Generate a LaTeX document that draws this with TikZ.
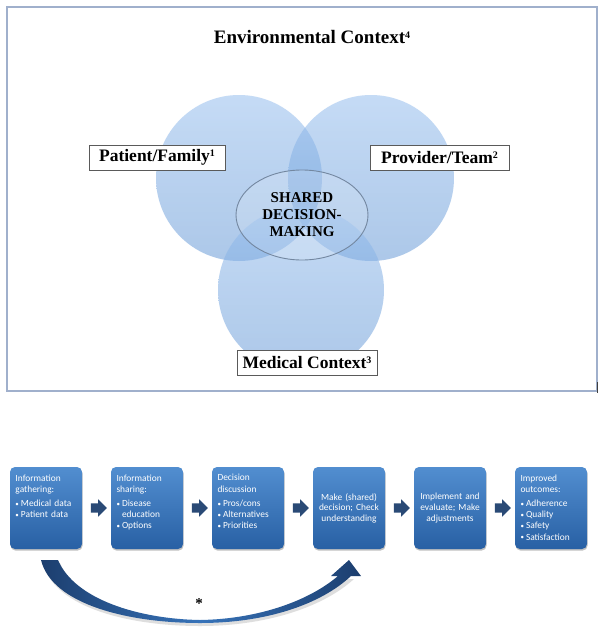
\documentclass[tikz,border=0pt]{standalone}
\usepackage{fontspec}
\setmainfont{Liberation Serif}
\newfontfamily\boxfont{Carlito}
\usetikzlibrary{shadows,shapes.geometric,shapes.arrows,calc}
\definecolor{framec}{RGB}{160,176,204}
\definecolor{circtop}{RGB}{150,190,238}
\definecolor{circbot}{RGB}{105,155,215}
\definecolor{ellc}{RGB}{115,135,160}
\definecolor{labc}{RGB}{90,90,90}
\definecolor{boxtop}{RGB}{82,142,208}
\definecolor{boxbot}{RGB}{40,96,164}
\definecolor{arrowc}{RGB}{42,74,118}
\definecolor{curvec}{RGB}{28,62,110}
\definecolor{curvemid}{RGB}{55,115,185}
\newcommand\bul{\makebox[5.5pt][l]{\raisebox{0.3pt}{\fontsize{7}{7}\selectfont\textbullet}}}
\newcommand\supnum[1]{\raisebox{0.62ex}{\fontsize{10}{10}\selectfont #1}}
\tikzset{
  circ/.style={circle, minimum size=166pt, inner sep=0pt, top color=circtop, bottom color=circbot, fill opacity=0.55, draw=none},
  lab/.style={draw=labc, fill=white, line width=1pt, minimum height=25pt, inner xsep=4pt, font=\bfseries\fontsize{17.5}{19}\selectfont},
  fbox/.style={rounded corners=5pt, top color=boxtop, bottom color=boxbot, minimum width=72pt, minimum height=82pt, inner sep=0pt,
    drop shadow={shadow xshift=0.6pt, shadow yshift=-1.6pt, opacity=0.35, fill=black!70}},
  txt/.style={anchor=north west, inner sep=0pt, text width=66pt, align=left, text=white, font=\boxfont\fontsize{9.4}{11.2}\selectfont},
  ctxt/.style={inner sep=0pt, text width=70pt, align=center, text=white, font=\boxfont\fontsize{9.4}{10.6}\selectfont},
  blk/.style={single arrow, fill=arrowc, draw=none, minimum height=16pt, inner sep=4.5pt, single arrow head extend=4pt, shape border rotate=0}
}
\begin{document}
\begin{tikzpicture}[x=1pt,y=-1pt]
\useasboundingbox (0,0) rectangle (605,637);
\fill[white] (0,0) rectangle (605,637);
% frame
\draw[framec, line width=1.5pt] (7,7) rectangle (597,391);
\draw[black!75, line width=1pt] (597,382) -- (597,393);
\node[font=\bfseries\fontsize{19}{21}\selectfont] (title) at (312,37) {Environmental Context\supnum{4}};
% circles
\node[circ] (pfc) at (239,178) {};
\node[circ] (ptc) at (371,178) {};
\node[circ] (mcc) at (301,290) {};
\node[ellipse, minimum width=132pt, minimum height=90pt, draw=ellc, line width=0.9pt, fill=white, fill opacity=0.15, draw opacity=1] (sdm) at (302,215) {};
\node[font=\bfseries\fontsize{15}{17}\selectfont, align=center, inner sep=0pt] (sdmt) at (sdm) {SHARED\\DECISION-\\MAKING};
% labels
\node[lab, minimum width=136pt] (pf) at (157,157.5) {Patient/Family\supnum{1}};
\node[lab, minimum width=139pt] (pt) at (439.5,157.5) {Provider/Team\supnum{2}};
\node[lab, minimum width=140pt] (mc) at (307,362.5) {Medical Context\supnum{3}};
% flow boxes
\node[fbox] (b1) at (46,508) {};
\node[fbox] (b2) at (147,508) {};
\node[fbox] (b3) at (248,508) {};
\node[fbox] (b4) at (349,508) {};
\node[fbox] (b5) at (450,508) {};
\node[fbox] (b6) at (551,508) {};
\node[txt] (t1) at ([shift={(5.5,7.5)}]b1.north west) {Information\\gathering:\\[3pt]\bul Medical data\\\bul Patient data};
\node[txt] (t2) at ([shift={(5.5,7.5)}]b2.north west) {Information\\sharing:\\[3pt]\bul Disease\\\hspace*{5.5pt}education\\\bul Options};
\node[txt] (t3) at ([shift={(5.5,7.5)}]b3.north west) {Decision\\discussion\\[3pt]\bul Pros/cons\\\bul Alternatives\\\bul Priorities};
\node[ctxt] (t4) at (b4) {Make (shared)\\decision; Check\\understanding};
\node[ctxt] (t5) at (b5) {Implement and\\evaluate; Make\\adjustments};
\node[txt] (t6) at ([shift={(5.5,7.5)}]b6.north west) {Improved\\outcomes:\\[3pt]\bul Adherence\\\bul Quality\\\bul Safety\\\bul Satisfaction};
% block arrows
\node[blk] (a1) at ($(b1.east)!0.5!(b2.west)$) {};
\node[blk] (a2) at ($(b2.east)!0.5!(b3.west)$) {};
\node[blk] (a3) at ($(b3.east)!0.5!(b4.west)$) {};
\node[blk] (a4) at ($(b4.east)!0.5!(b5.west)$) {};
\node[blk] (a5) at ($(b5.east)!0.5!(b6.west)$) {};
% curved arrow
\fill[black!25, opacity=0.5] (43,563) .. controls (54,608) and (130,626) .. (200,626) .. controls (265,626) and (322,608) .. (354,579) -- (338,579) .. controls (310,603) and (260,622) .. (200,623) .. controls (140,622) and (76,603) .. (60,563) -- cycle;
\shade[left color=curvec, right color=curvec, middle color=curvemid]
  (41,560) .. controls (52,605) and (130,623) .. (200,623)
  .. controls (265,623) and (320,605) .. (351,576)
  -- (361,576) -- (349,560) -- (331,576) -- (338,576)
  .. controls (310,600) and (260,619) .. (200,620)
  .. controls (140,619) and (75,600) .. (58,560) -- cycle;
\node[font=\bfseries\fontsize{15}{15}\selectfont, inner sep=0pt] (ast) at (199,604) {*};
\end{tikzpicture}
\end{document}
